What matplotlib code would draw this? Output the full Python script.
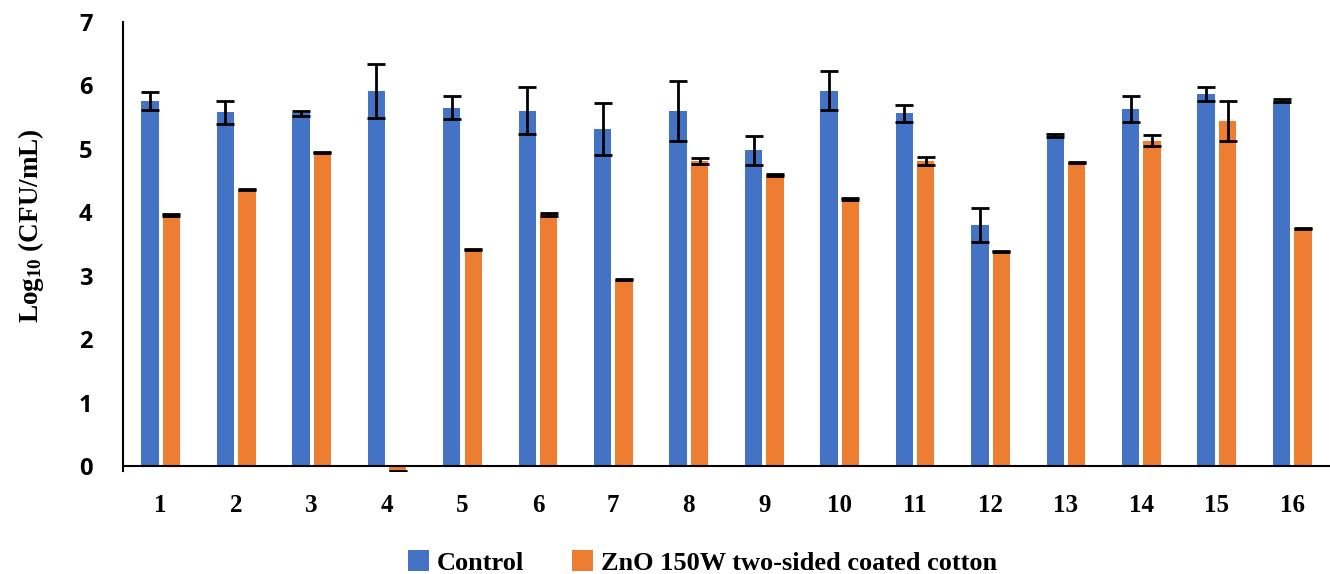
import matplotlib
matplotlib.use("Agg")
import matplotlib.pyplot as plt
import numpy as np

categories = [str(i) for i in range(1, 17)]
control = [5.76, 5.58, 5.56, 5.91, 5.65, 5.60, 5.32, 5.60, 4.98, 5.92, 5.56, 3.80, 5.21, 5.63, 5.87, 5.76]
control_err = [0.14, 0.18, 0.04, 0.42, 0.18, 0.37, 0.41, 0.47, 0.23, 0.31, 0.13, 0.27, 0.02, 0.21, 0.11, 0.02]
zno = [3.96, 4.36, 4.94, -0.08, 3.42, 3.97, 2.94, 4.81, 4.59, 4.21, 4.81, 3.38, 4.79, 5.13, 5.44, 3.75]
zno_err = [0.01, 0.01, 0.01, 0.01, 0.01, 0.02, 0.01, 0.05, 0.02, 0.02, 0.06, 0.01, 0.01, 0.09, 0.31, 0.01]
series_names = ["Control", "ZnO 150W two-sided coated cotton"]
colors = ["#4472C4", "#ED7D31"]

plt.rcParams['mathtext.fontset'] = 'custom'
plt.rcParams['mathtext.rm'] = 'Liberation Serif:bold'
plt.rcParams['mathtext.default'] = 'rm'

fig = plt.figure(figsize=(13.3, 5.74), dpi=100)
ax = fig.add_axes([0.0925, 0.179, 0.9075, 0.7827])

x = np.arange(len(categories))
w = 0.23
off = 0.142
ekw = dict(elinewidth=2, capthick=2, ecolor='black')
ax.bar(x - off, control, w, color=colors[0], yerr=control_err, capsize=6.5,
       error_kw=ekw, label=series_names[0], zorder=2)
ax.bar(x + off, zno, w, color=colors[1], yerr=zno_err, capsize=6.5,
       error_kw=ekw, label=series_names[1], zorder=2)

ax.spines['top'].set_visible(False)
ax.spines['right'].set_visible(False)
ax.spines['bottom'].set_position(('data', 0))
ax.spines['bottom'].set_linewidth(1.5)
ax.spines['left'].set_linewidth(1.5)

ax.set_xlim(-0.5, len(categories) - 0.5)
ax.set_ylim(-0.08, 7)
ax.set_yticks(range(0, 8))
ax.set_xticks(x)
ax.set_xticklabels(categories, fontfamily='Liberation Serif', fontweight='bold', fontsize=18)
ax.set_yticklabels([str(v) for v in range(0, 8)], fontfamily='Open Sans', fontweight='bold', fontsize=17)
ax.tick_params(axis='x', length=0, pad=20)
ax.tick_params(axis='y', length=0, pad=22)

ax.set_ylabel('Log$_{10}$ (CFU/mL)', fontfamily='Liberation Serif', fontweight='bold',
              fontsize=19.5)
ax.yaxis.set_label_coords(-0.064, 0.546)

fig.legend(loc='center', bbox_to_anchor=(0.528, 0.02), ncol=2, frameon=False,
           prop={'family': 'Liberation Serif', 'weight': 'bold', 'size': 19},
           handlelength=0.8, handleheight=0.8, handletextpad=0.3, columnspacing=1.8)

fig.savefig('out.png', dpi=100)
